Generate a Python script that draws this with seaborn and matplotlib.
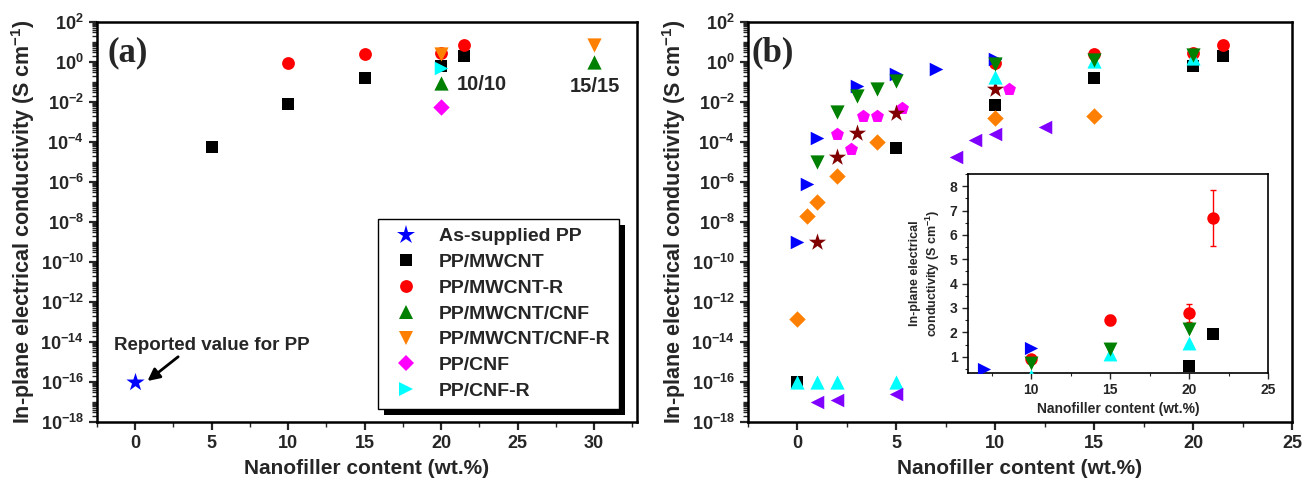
import numpy as np
import matplotlib
matplotlib.use("Agg")
import matplotlib.pyplot as plt
import matplotlib.ticker as mticker
from matplotlib.patches import Rectangle
from matplotlib.lines import Line2D
from matplotlib.transforms import IdentityTransform
import seaborn as sns

# ---- panel (a): this work
a_asup_x = [0]
a_asup_y = [1e-16]
a_mwcnt_x = [5, 10, 15, 20, 21.5]
a_mwcnt_y = [5.6e-5, 8e-3, 0.16, 0.6, 1.95]
a_mwcntr_x = [10, 15, 20, 21.5]
a_mwcntr_y = [0.9, 2.5, 2.8, 6.7]
a_hyb_x = [20, 30]
a_hyb_y = [0.09, 1.0]
a_hybr_x = [20, 30]
a_hybr_y = [2.6, 6.8]
a_cnf_x = [20]
a_cnf_y = [5.6e-3]
a_cnfr_x = [20]
a_cnfr_y = [0.5]
a_labels = ["As-supplied PP", "PP/MWCNT", "PP/MWCNT-R", "PP/MWCNT/CNF",
            "PP/MWCNT/CNF-R", "PP/CNF", "PP/CNF-R"]

# ---- panel (b): literature comparison
b_black_x = [0, 5, 10, 15, 20, 21.5]
b_black_y = [1e-16, 5.2e-5, 7.4e-3, 0.15, 0.6, 1.95]
b_red_x = [10, 15, 20, 21.5]
b_red_y = [0.9, 2.5, 2.8, 6.7]
b_orange_x = [0, 0.5, 1, 2, 4, 10, 15]
b_orange_y = [1.4e-13, 2e-8, 1e-7, 2e-6, 1e-4, 1.5e-3, 2.1e-3]
b_magenta_x = [2, 2.7, 3.3, 4, 5.3, 10.7]
b_magenta_y = [2.4e-4, 4.7e-5, 2.1e-3, 2.1e-3, 5.2e-3, 0.043]
b_maroon_x = [1, 2, 3, 5, 10]
b_maroon_y = [1e-9, 1.7e-5, 2.7e-4, 2.9e-3, 0.043]
b_blue_x = [0, 0.5, 1, 3, 5, 7, 10]
b_blue_y = [1e-9, 8e-7, 1.6e-4, 0.065, 0.25, 0.47, 1.35]
b_cyan_x = [0, 1, 2, 5, 10, 15, 20]
b_cyan_y = [1e-16, 1e-16, 1e-16, 1e-16, 0.18, 1.1, 1.55]
b_green_x = [1, 2, 3, 4, 5, 10, 15, 20]
b_green_y = [1e-5, 3e-3, 0.019, 0.043, 0.11, 0.76, 1.3, 2.15]
b_purple_x = [1, 2, 5, 8, 9, 10, 12.5]
b_purple_y = [1e-17, 1.2e-17, 2.5e-17, 1.7e-5, 1.2e-4, 2.6e-4, 5.9e-4]

# ---- inset (linear scale)
in_blue_x = [7, 10]
in_blue_y = [0.5, 1.35]
in_red_x = [10, 15, 20, 21.5]
in_red_y = [0.9, 2.5, 2.8, 6.7]
in_red_err = [0.08, 0.2, 0.37, 1.15]
in_green_x = [10, 15, 20]
in_green_y = [0.75, 1.3, 2.15]
in_cyan_x = [10, 15, 20]
in_cyan_y = [0.2, 1.1, 1.55]
in_black_x = [20, 21.5]
in_black_y = [0.6, 1.95]

sns.set_style("ticks")
plt.rcParams["font.family"] = ["Liberation Sans", "DejaVu Sans"]
plt.rcParams["font.weight"] = "bold"
plt.rcParams["axes.labelweight"] = "bold"
plt.rcParams["mathtext.fontset"] = "custom"
plt.rcParams["mathtext.rm"] = "Liberation Sans:bold"
plt.rcParams["mathtext.bf"] = "Liberation Sans:bold"
plt.rcParams["mathtext.default"] = "bf"

BLUE, BLACK, RED, GREEN = "#0000FF", "#000000", "#FF0000", "#008000"
ORANGE, MAGENTA, CYAN = "#FF8000", "#FF00FF", "#00FFFF"
MAROON, PURPLE = "#800000", "#8000FF"


def dots(ax, x, y, marker, color, s):
    sns.scatterplot(x=x, y=y, marker=marker, color=color, s=s,
                    linewidth=0, ax=ax, legend=False, zorder=3)


def style_log(ax, xmax):
    ax.set_yscale("log")
    ax.set_ylim(1e-18, 1e2)
    ax.set_xlim(-2.5, xmax)
    ax.set_yticks([10.0 ** k for k in range(-18, 3, 2)])
    ax.yaxis.set_minor_locator(mticker.LogLocator(base=10, subs=np.arange(1, 10), numticks=200))
    ax.yaxis.set_minor_formatter(mticker.NullFormatter())
    ax.yaxis.set_major_formatter(mticker.FuncFormatter(
        lambda v, p: r"$10^{%d}$" % int(round(np.log10(v)))))
    ax.xaxis.set_major_locator(mticker.MultipleLocator(5))
    ax.xaxis.set_minor_locator(mticker.MultipleLocator(2.5))
    ax.tick_params(which="major", direction="out", length=6, width=1.6, labelsize=13)
    ax.tick_params(which="minor", direction="out", length=3.5, width=1.0)
    for sp in ax.spines.values():
        sp.set_linewidth(1.8)
        sp.set_color("black")
    ax.set_xlabel("Nanofiller content (wt.%)", fontsize=15, labelpad=5)
    ax.set_ylabel(r"In-plane electrical conductivity (S cm$^{-1}$)", fontsize=15.5, labelpad=2)


W, H = 1304, 484
fig = plt.figure(figsize=(W / 100, H / 100), dpi=100)
axa = fig.add_axes([97 / W, 1 - 422 / H, (637 - 97) / W, 400 / H])
axb = fig.add_axes([748 / W, 1 - 422 / H, (1292 - 748) / W, 400 / H])
axi = fig.add_axes([968 / W, 1 - 373 / H, (1268 - 968) / W, (373 - 174) / H])

# ---- panel (a)
a_series = [
    (a_asup_x, a_asup_y, "*", BLUE, 190),
    (a_mwcnt_x, a_mwcnt_y, "s", BLACK, 75),
    (a_mwcntr_x, a_mwcntr_y, "o", RED, 85),
    (a_hyb_x, a_hyb_y, "^", GREEN, 105),
    (a_hybr_x, a_hybr_y, "v", ORANGE, 105),
    (a_cnf_x, a_cnf_y, "D", MAGENTA, 70),
    (a_cnfr_x, a_cnfr_y, ">", CYAN, 95),
]
for x, y, m, c, s in a_series:
    dots(axa, x, y, m, c, s)
style_log(axa, 32.8)

handles = [Line2D([], [], marker=m, color=c, linestyle="none", markersize=np.sqrt(s), markeredgewidth=0)
           for _, _, m, c, s in a_series]
leg = axa.legend(handles, a_labels, loc="upper left", bbox_to_anchor=(0.52, 0.5075),
                 borderaxespad=0, fancybox=False, framealpha=1, labelspacing=0.42,
                 handlelength=2.0, handletextpad=0.7, borderpad=0.45,
                 prop={"size": 14, "weight": "bold"})
leg.get_frame().set_edgecolor("black")
leg.get_frame().set_linewidth(1.0)

axa.text(0.019, 0.9225, "(a)", transform=axa.transAxes, ha="left", va="center",
         fontsize=25, fontweight="bold", family=["Liberation Serif"])
axa.text(21.0, 10 ** -1.12, "10/10", ha="left", va="center", fontsize=14.5, fontweight="bold")
axa.text(28.4, 10 ** -1.25, "15/15", ha="left", va="center", fontsize=14.5, fontweight="bold")
axa.annotate("Reported value for PP", xy=(0.8, 10 ** -15.95), xytext=(-1.4, 10 ** -14.15),
             ha="left", va="center", fontsize=13.5, fontweight="bold",
             arrowprops=dict(arrowstyle="-|>", color="black", lw=2.0, mutation_scale=18,
                             shrinkA=0, shrinkB=0, relpos=(0.35, 0.0)))

# ---- panel (b)
b_series = [
    (b_black_x, b_black_y, "s", BLACK, 75),
    (b_red_x, b_red_y, "o", RED, 85),
    (b_orange_x, b_orange_y, "D", ORANGE, 70),
    (b_magenta_x, b_magenta_y, "p", MAGENTA, 95),
    (b_maroon_x, b_maroon_y, "*", MAROON, 170),
    (b_blue_x, b_blue_y, ">", BLUE, 95),
    (b_cyan_x, b_cyan_y, "^", CYAN, 105),
    (b_green_x, b_green_y, "v", GREEN, 105),
    (b_purple_x, b_purple_y, "<", PURPLE, 95),
]
for x, y, m, c, s in b_series:
    dots(axb, x, y, m, c, s)
style_log(axb, 25)
axb.text(0.007, 0.9225, "(b)", transform=axb.transAxes, ha="left", va="center",
         fontsize=25, fontweight="bold", family=["Liberation Serif"])

# ---- inset
axi.errorbar(in_red_x, in_red_y, yerr=in_red_err, fmt="none", ecolor=RED,
             elinewidth=1.0, capsize=2.5, capthick=1.0, zorder=2)
dots(axi, in_red_x, in_red_y, "o", RED, 80)
dots(axi, in_blue_x, in_blue_y, ">", BLUE, 90)
dots(axi, in_cyan_x, in_cyan_y, "^", CYAN, 100)
dots(axi, in_green_x, in_green_y, "v", GREEN, 100)
dots(axi, in_black_x, in_black_y, "s", BLACK, 70)
axi.set_xlim(6, 25)
axi.set_ylim(0.33, 8.5)
axi.xaxis.set_major_locator(mticker.MultipleLocator(5))
axi.xaxis.set_minor_locator(mticker.MultipleLocator(2.5))
axi.yaxis.set_major_locator(mticker.MultipleLocator(1))
axi.yaxis.set_minor_locator(mticker.MultipleLocator(0.5))
axi.tick_params(which="major", direction="out", length=4, width=1.0, labelsize=10)
axi.tick_params(which="minor", direction="out", length=2, width=0.8)
for sp in axi.spines.values():
    sp.set_linewidth(1.2)
    sp.set_color("black")
axi.set_xlabel("Nanofiller content (wt.%)", fontsize=10, labelpad=3)
axi.set_ylabel("In-plane electrical\n" + r"conductivity (S cm$^{-1}$)", fontsize=9, labelpad=6)

# black drop shadow behind the legend
fig.canvas.draw()
bb = leg.get_window_extent()
axa.add_patch(Rectangle((bb.x0 + 6, bb.y0 - 6), bb.width, bb.height, transform=IdentityTransform(),
                        facecolor="black", edgecolor="none", zorder=leg.get_zorder() - 0.1))

fig.savefig("out.png", dpi=100)
